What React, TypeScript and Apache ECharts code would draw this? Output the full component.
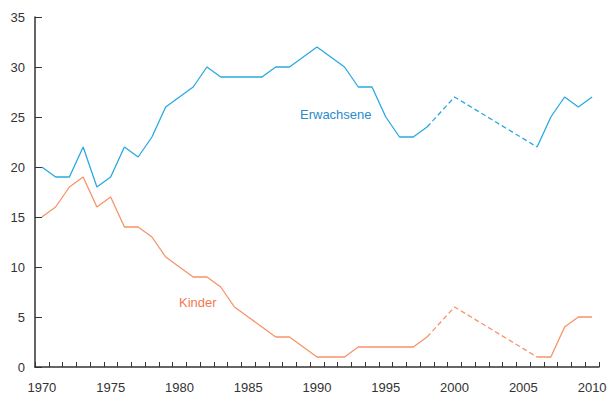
import React, { useEffect, useRef } from "react";
import * as echarts from "echarts";

const years: string[] = [];
for (let y = 1970; y <= 2010; y++) years.push(String(y));

// null = no observation (gap bridged by dashed line)
const erwachsene: (number | null)[] = [
  20, 19, 19, 22, 18, 19, 22, 21, 23, 26,
  27, 28, 30, 29, 29, 29, 29, 30, 30, 31,
  32, 31, 30, 28, 28, 25, 23, 23, 24, null,
  27, null, null, null, null, null, 22, 25, 27, 26,
  27,
];

const kinder: (number | null)[] = [
  15, 16, 18, 19, 16, 17, 14, 14, 13, 11,
  10, 9, 9, 8, 6, 5, 4, 3, 3, 2,
  1, 1, 1, 2, 2, 2, 2, 2, 3, null,
  6, null, null, null, null, null, 1, 1, 4, 5,
  5,
];

const yTicks = [0, 5, 10, 15, 20, 25, 30, 35];

const BLUE = "#29a9e1";
const BLUE_TEXT = "#2b8acb";
const ORANGE = "#f6936a";
const ORANGE_TEXT = "#f3784f";

function solidPart(arr: (number | null)[]) {
  return arr.map((v, i) => {
    const yr = 1970 + i;
    if (yr > 1998 && yr < 2006) return null;
    return v;
  });
}
function dashedPart(arr: (number | null)[]) {
  return arr.map((v, i) => {
    const yr = 1970 + i;
    if (yr >= 1998 && yr <= 2006) return v;
    return null;
  });
}

export default function App() {
  const ref = useRef<HTMLDivElement>(null);
  useEffect(() => {
    if (!ref.current) return;
    const chart = echarts.init(ref.current, null, { renderer: "svg" });
    const axisColor = "#333";
    chart.setOption({
      animation: false,
      grid: { left: 35, right: 11, top: 17, bottom: 33 },
      xAxis: {
        type: "category",
        data: years,
        boundaryGap: true,
        axisLine: { lineStyle: { color: axisColor, width: 1.5 } },
        axisTick: { show: true, inside: true, length: 5, interval: 0, lineStyle: { color: axisColor } },
        axisLabel: {
          interval: 4,
          color: "#333",
          fontSize: 13,
          fontFamily: "Liberation Sans, Arial, sans-serif",
          margin: 14,
        },
        splitLine: { show: false },
      },
      yAxis: {
        type: "value",
        min: yTicks[0],
        max: yTicks[yTicks.length - 1],
        interval: 5,
        axisLine: { show: true, lineStyle: { color: axisColor, width: 1.5 } },
        axisTick: { show: true, inside: true, length: 7, lineStyle: { color: axisColor } },
        axisLabel: {
          color: "#333",
          fontSize: 13,
          fontFamily: "Liberation Sans, Arial, sans-serif",
          margin: 10,
        },
        splitLine: { show: false },
      },
      series: [
        {
          type: "line",
          data: solidPart(erwachsene),
          showSymbol: false,
          connectNulls: false,
          lineStyle: { color: BLUE, width: 1.3 },
        },
        {
          type: "line",
          data: dashedPart(erwachsene),
          showSymbol: false,
          connectNulls: true,
          lineStyle: { color: BLUE, width: 1.3, type: [5, 3] },
        },
        {
          type: "line",
          data: solidPart(kinder),
          showSymbol: false,
          connectNulls: false,
          lineStyle: { color: ORANGE, width: 1.3 },
        },
        {
          type: "line",
          data: dashedPart(kinder),
          showSymbol: false,
          connectNulls: true,
          lineStyle: { color: ORANGE, width: 1.3, type: [5, 3] },
        },
      ],
      graphic: [
        {
          type: "text",
          left: 300,
          top: 108,
          style: {
            text: "Erwachsene",
            fill: BLUE_TEXT,
            fontSize: 13,
            fontFamily: "Liberation Sans, Arial, sans-serif",
          },
        },
        {
          type: "text",
          left: 179,
          top: 296,
          style: {
            text: "Kinder",
            fill: ORANGE_TEXT,
            fontSize: 13,
            fontFamily: "Liberation Sans, Arial, sans-serif",
          },
        },
      ],
    });
    return () => chart.dispose();
  }, []);
  return <div ref={ref} style={{ width: 610, height: 400, position: "absolute", left: 0, top: 0 }} />;
}
